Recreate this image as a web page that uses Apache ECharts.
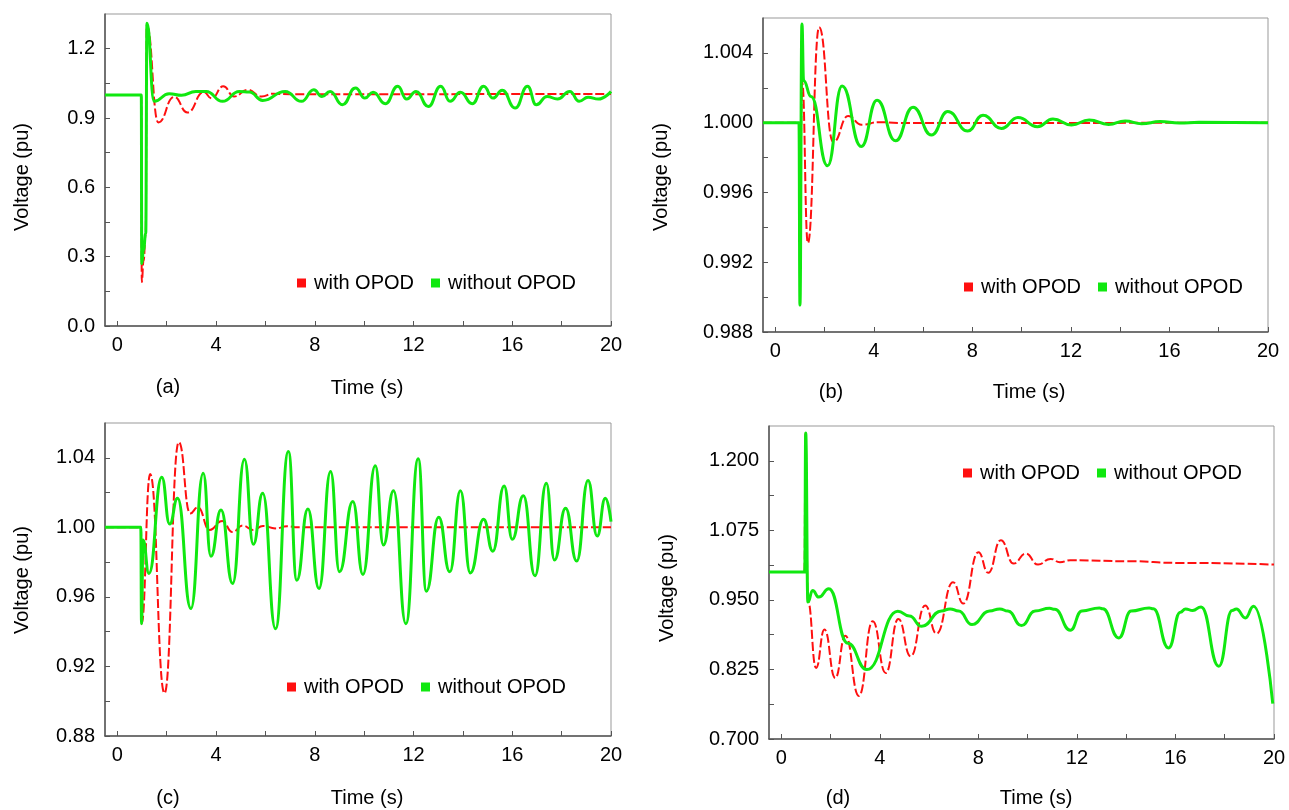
<!DOCTYPE html>
<html>
<head>
<meta charset="utf-8">
<title>Voltage response with and without OPOD</title>
<script src="https://cdn.jsdelivr.net/npm/echarts@6/dist/echarts.min.js"></script>
<style>
  html, body { margin: 0; padding: 0; background: #fff; }
  #main { width: 1289px; height: 810px; }
</style>
</head>
<body>
<div id="main"></div>
<script>
// time axis, shared by the four plots
var xTicks = [0, 2, 4, 6, 8, 10, 12, 14, 16, 18, 20];
var xLabels = [0, 4, 8, 12, 16, 20];

// (a)
var yTicksA = [0, 0.15, 0.3, 0.45, 0.6, 0.75, 0.9, 1.05, 1.2];
var yLabelsA = [0, 0.3, 0.6, 0.9, 1.2];
var withA = [[-0.5, 1.0], [0.97, 1.0], [0.99, 0.19], [1.06, 0.28], [1.15, 0.40], [1.19, 1.30],
  [1.66, 0.881], [2.30, 0.991], [2.84, 0.924], [3.5, 1.012], [3.82, 0.985], [4.29, 1.037],
  [4.73, 0.993], [5.28, 1.022], [5.85, 0.993], [6.3, 1.005], [7.0, 1.003], [20, 1.004]];
var withoutA = [[-0.5, 1.0], [0.97, 1.0], [0.99, 0.27], [1.06, 0.33], [1.15, 0.40], [1.20, 1.31],
  [1.49, 0.972], [2.1, 1.005], [2.6, 0.998], [3.18, 1.015], [3.6, 1.015], [4.26, 0.972],
  [4.94, 1.015], [5.35, 1.012], [5.89, 0.976], [6.8, 1.015], [7.46, 0.972], [7.96, 1.022],
  [8.29, 0.993], [8.62, 1.015], [9.12, 0.957], [9.65, 1.03], [10.03, 0.986], [10.36, 1.011],
  [10.86, 0.962], [11.36, 1.037], [11.72, 0.982], [12.1, 1.015], [12.6, 0.95], [13.1, 1.037],
  [13.48, 0.972], [13.9, 1.011], [14.38, 0.962], [14.84, 1.037], [15.22, 0.986], [15.59, 1.02],
  [16.12, 0.943], [16.62, 1.037], [16.97, 0.957], [17.41, 0.993], [17.83, 0.982], [18.33, 1.015],
  [18.71, 0.972], [19.07, 0.99], [19.49, 0.982], [20, 1.015]];

// (b)
var yTicksB = [0.988, 0.990, 0.992, 0.994, 0.996, 0.998, 1.000, 1.002, 1.004];
var yLabelsB = [0.988, 0.992, 0.996, 1.000, 1.004];
var withB = [[-0.5, 1.0], [0.97, 1.0], [1.0, 0.9965], [1.09, 1.0023], [1.32, 0.9931],
  [1.78, 1.00547], [2.35, 0.99889], [2.96, 1.00038], [3.5, 0.99988], [4.2, 1.00003],
  [5.0, 0.99998], [20, 1.0]];
var withoutB = [[-0.5, 1.0], [0.96, 1.0], [1.0, 0.98954], [1.08, 1.00566], [1.15, 1.0024],
  [1.45, 1.0015], [2.12, 0.99753], [2.71, 1.0021], [3.49, 0.99863], [4.13, 1.00129],
  [4.88, 0.99896], [5.59, 1.00089], [6.34, 0.99929], [7.0, 1.00064], [7.81, 0.99952],
  [8.43, 1.00042], [9.18, 0.99967], [9.85, 1.00029], [10.64, 0.99977], [11.27, 1.00021],
  [12.02, 0.99987], [12.74, 1.00015], [13.53, 0.9999], [14.2, 1.0001], [14.87, 0.99994],
  [15.62, 1.00006], [16.4, 0.99998], [17.2, 1.00002], [20, 1.0]];

// (c)
var yTicksC = [0.88, 0.90, 0.92, 0.94, 0.96, 0.98, 1.00, 1.02, 1.04];
var yLabelsC = [0.88, 0.92, 0.96, 1.00, 1.04];
var withC = [[-0.5, 1.0], [0.96, 1.0], [0.98, 0.9446], [1.33, 1.0306], [1.91, 0.9046],
  [2.49, 1.049], [2.95, 1.008], [3.26, 1.0115], [3.74, 0.9985], [4.25, 1.0037], [4.66, 0.9973],
  [5.08, 1.001], [5.5, 0.9985], [5.9, 1.0008], [6.4, 0.9994], [6.88, 1.0006], [7.3, 1.0],
  [20, 1.0]];
var withoutC = [[-0.5, 1.0], [0.95, 1.0], [0.98, 0.9446], [1.04, 0.9927], [1.28, 0.9735],
  [1.8, 1.0288], [2.12, 1.0019], [2.44, 1.0167], [2.98, 0.9533], [3.48, 1.0311], [3.79, 0.9834],
  [4.2, 1.01], [4.67, 0.9677], [5.15, 1.0392], [5.51, 0.9902], [5.89, 1.0196], [6.41, 0.9417],
  [6.93, 1.0436], [7.27, 0.9696], [7.72, 1.0106], [8.17, 0.9648], [8.64, 1.0321], [9.0, 0.9744],
  [9.54, 1.0148], [9.95, 0.9729], [10.45, 1.0354], [10.78, 0.9898], [11.19, 1.021],
  [11.69, 0.9446], [12.19, 1.0394], [12.52, 0.9633], [13.02, 1.0058], [13.47, 0.9744],
  [13.9, 1.021], [14.3, 0.9738], [14.84, 1.0046], [15.21, 0.9863], [15.67, 1.0238],
  [16.0, 0.9931], [16.45, 1.0181], [16.92, 0.9721], [17.38, 1.0254], [17.71, 0.9812],
  [18.16, 1.011], [18.61, 0.9806], [19.07, 1.0269], [19.44, 0.995], [19.77, 1.0167],
  [20, 1.0033]];

// (d)
var yTicksD = [0.7, 0.7625, 0.825, 0.8875, 0.95, 1.0125, 1.075, 1.1375, 1.2];
var yLabelsD = [0.7, 0.825, 0.95, 1.075, 1.2];
var withD = [[-0.5, 1.0], [0.94, 1.0], [0.98, 1.25], [1.08, 0.9475], [1.41, 0.8277],
  [1.75, 0.8966], [2.19, 0.8097], [2.6, 0.8855], [3.15, 0.7775], [3.71, 0.9116], [4.24, 0.8187],
  [4.75, 0.9158], [5.25, 0.8487], [5.84, 0.9398], [6.3, 0.8894], [6.97, 0.9818], [7.39, 0.9434],
  [8.0, 1.0357], [8.4, 0.9986], [8.91, 1.0573], [9.43, 1.0153], [9.92, 1.0333], [10.42, 1.0135],
  [10.93, 1.0237], [11.31, 1.0177], [11.73, 1.0213], [14.1, 1.0195], [16.1, 1.0165],
  [20, 1.0135]];
var withoutD = [[-0.5, 1.0], [0.95, 1.0], [0.99, 1.25], [1.08, 0.946], [1.27, 0.967],
  [1.52, 0.955], [1.93, 0.97], [2.7, 0.872], [3.47, 0.8247], [4.73, 0.9295], [5.2, 0.921],
  [5.7, 0.9025], [6.5, 0.93], [6.85, 0.9338], [7.2, 0.93], [7.74, 0.9056], [8.45, 0.93],
  [8.87, 0.9338], [9.2, 0.93], [9.75, 0.9038], [10.3, 0.93], [10.89, 0.935], [11.1, 0.933],
  [11.73, 0.8955], [12.2, 0.93], [12.91, 0.9356], [13.05, 0.934], [13.7, 0.8817], [14.2, 0.93],
  [14.93, 0.9356], [15.1, 0.934], [15.72, 0.8637], [16.2, 0.928], [16.41, 0.9338], [16.7, 0.9308],
  [17.04, 0.9374], [17.76, 0.8307], [18.3, 0.931], [18.47, 0.9338], [18.84, 0.9176],
  [19.17, 0.9386], [19.95, 0.7636]];

var chart = echarts.init(document.getElementById('main'));
var font = '"Liberation Sans", Arial, sans-serif';

var panels = [
  { grid: { left: 105, top: 14, width: 506, height: 312 }, min: 0, max: 1.35, ticks: yTicksA, labels: yLabelsA, dec: 1,
    red: withA, green: withoutA, legend: { left: 292, top: 268 } },
  { grid: { left: 763, top: 18, width: 505, height: 314 }, min: 0.988, max: 1.006, ticks: yTicksB, labels: yLabelsB, dec: 3,
    red: withB, green: withoutB, legend: { left: 959, top: 272 } },
  { grid: { left: 105, top: 423, width: 506, height: 313 }, min: 0.88, max: 1.06, ticks: yTicksC, labels: yLabelsC, dec: 2,
    red: withC, green: withoutC, legend: { left: 282, top: 672 } },
  { grid: { left: 769, top: 426, width: 505, height: 313 }, min: 0.7, max: 1.2625, ticks: yTicksD, labels: yLabelsD, dec: 3,
    red: withD, green: withoutD, legend: { left: 958, top: 458 } }
];

var grids = [], xAxes = [], yAxes = [], series = [], legends = [];
panels.forEach(function (p, i) {
  grids.push(Object.assign({ show: true, borderColor: '#999', borderWidth: 1 }, p.grid));
  xAxes.push({
    type: 'value', gridIndex: i, min: -0.5, max: 20,
    axisLine: { onZero: false, lineStyle: { color: '#555', width: 1.5 } },
    axisTick: { inside: true, length: 5, customValues: xTicks, lineStyle: { color: '#555' } },
    axisLabel: { customValues: xLabels, margin: 9, color: '#000', fontSize: 20, fontFamily: font },
    splitLine: { show: false }
  });
  yAxes.push({
    type: 'value', gridIndex: i, min: p.min, max: p.max,
    axisLine: { show: true, onZero: false, lineStyle: { color: '#555', width: 1.5 } },
    axisTick: { show: true, inside: true, length: 5, customValues: p.ticks, lineStyle: { color: '#555' } },
    axisLabel: {
      customValues: p.labels, margin: 10, color: '#000', fontSize: 20, fontFamily: font,
      formatter: function (v) { return v.toFixed(p.dec); }
    },
    splitLine: { show: false }
  });
  series.push({
    name: 'with OPOD', type: 'line', xAxisIndex: i, yAxisIndex: i, data: p.red,
    showSymbol: false, symbol: 'none', smooth: 0.5, smoothMonotone: 'x',
    itemStyle: { color: '#ff1010' },
    lineStyle: { color: '#ff1010', width: 2, type: [9, 3] }
  });
  series.push({
    name: 'without OPOD', type: 'line', xAxisIndex: i, yAxisIndex: i, data: p.green,
    showSymbol: false, symbol: 'none', smooth: 0.5, smoothMonotone: 'x',
    itemStyle: { color: '#10e810' },
    lineStyle: { color: '#10e810', width: 3 }
  });
  legends.push({
    left: p.legend.left, top: p.legend.top, orient: 'horizontal',
    icon: 'rect', itemWidth: 9, itemHeight: 9, itemGap: 17,
    textStyle: { fontSize: 20, fontFamily: font, color: '#000', padding: [0, 0, 0, 3] },
    data: ['with OPOD', 'without OPOD']
  });
});

function txt(s, x, y, rot) {
  return {
    type: 'text', x: x, y: y, rotation: rot || 0,
    style: { text: s, font: '20px ' + font, fill: '#000', textAlign: 'center', textVerticalAlign: 'middle' }
  };
}

var graphics = [
  txt('(a)', 168, 387), txt('Time (s)', 367, 388), txt('Voltage (pu)', 22, 177, Math.PI / 2),
  txt('(b)', 831, 392), txt('Time (s)', 1029, 392), txt('Voltage (pu)', 661, 177, Math.PI / 2),
  txt('(c)', 168, 798), txt('Time (s)', 367, 798), txt('Voltage (pu)', 22, 580, Math.PI / 2),
  txt('(d)', 838, 798), txt('Time (s)', 1036, 798), txt('Voltage (pu)', 667, 588, Math.PI / 2)
];

chart.setOption({
  backgroundColor: '#fff',
  animation: false,
  grid: grids,
  xAxis: xAxes,
  yAxis: yAxes,
  legend: legends,
  series: series,
  graphic: graphics
});
</script>
</body>
</html>
